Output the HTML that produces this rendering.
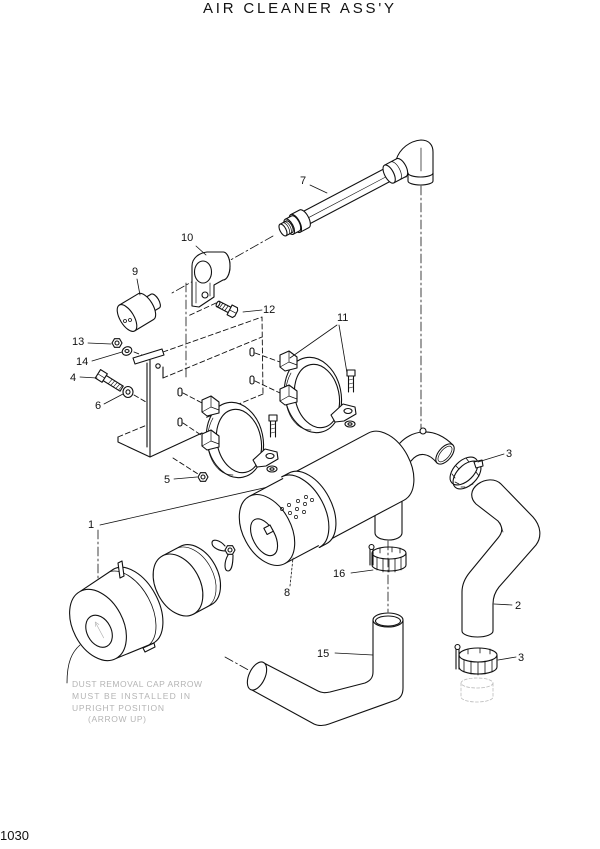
<!DOCTYPE html>
<html><head><meta charset="utf-8"><style>
html,body{margin:0;padding:0;background:#fff;}
svg{display:block;}
.t{font-family:"Liberation Sans",sans-serif;font-size:11px;fill:#111;stroke:none;}
.n{font-family:"Liberation Sans",sans-serif;font-size:8.5px;fill:#b4b4b4;stroke:none;}
</style></head><body>
<svg width="600" height="849" viewBox="0 0 600 849" xmlns="http://www.w3.org/2000/svg">
<rect width="600" height="849" fill="#fff"/>
<text x="203" y="13" textLength="191" lengthAdjust="spacing" style="font-family:'Liberation Sans',sans-serif;font-size:15px;fill:#111;">AIR CLEANER ASS'Y</text>
<text x="0" y="840" style="font-family:'Liberation Sans',sans-serif;font-size:13px;fill:#111;">1030</text>

<g fill="none" stroke="#111" stroke-width="1.1" stroke-linecap="round" stroke-linejoin="round">

<!-- centerlines / dash-dot -->
<g stroke-width="0.8" stroke-dasharray="9,3,2,3">
<path d="M421,186 L421,428"/>
<path d="M273,236 L172,293"/>
<path d="M186,283 L186,380"/>
<path d="M98,530 L98,588"/>
<path d="M388,541 L388,612"/>
<path d="M388,625 L388,698"/>
<path d="M225,657 L290,693"/>
<path d="M305,700 L365,690"/>
</g>

<!-- Pipe 7 elbow -->
<path d="M396,160 C400,148 410,141 421,140 C429,140 433,145 433,152 L433,174 L408,174 L406,177 Z" fill="#fff"/>
<path d="M408,173 L408,181 A12.5,4 0 0 0 433,181 L433,173" fill="#fff"/>
<path d="M408,173 A12.5,4 0 0 0 433,173"/>
<path d="M421,148 L421,171" stroke-width="0.7"/>
<g transform="translate(283,230) rotate(-27.8)">
<path d="M24,-7 L122,-7 M24,7 L122,7"/>
<path d="M28,1 L118,1" stroke-width="0.6"/>
<path d="M120,-10 L134,-10 A4.5,10 0 0 1 134,10 L120,10 Z" fill="#fff"/>
<ellipse cx="120" cy="0" rx="4.5" ry="10" fill="#fff"/>
<path d="M127,-10 A4.5,10 0 0 1 127,10" stroke-width="0.7"/>
<path d="M14,-10 L24,-10 A4.5,10 0 0 1 24,10 L14,10 Z" fill="#fff"/>
<ellipse cx="14" cy="0" rx="4.5" ry="10" fill="#fff"/>
<path d="M7,-8.5 L14,-8.5 A4,8.5 0 0 1 14,8.5 L7,8.5 Z" fill="#fff"/>
<ellipse cx="7" cy="0" rx="4" ry="8.5" fill="#fff"/>
<path d="M0,-6.5 L7,-6.5 A3,6.5 0 0 1 7,6.5 L0,6.5 Z" fill="#fff"/>
<ellipse cx="0" cy="0" rx="3" ry="6.5" fill="#fff"/>
<path d="M3,-6.5 A3,6.5 0 0 1 3,6.5 M5,-6.5 A3,6.5 0 0 1 5,6.5" stroke-width="0.7"/>
</g>

<!-- Part 10 clamp -->
<ellipse cx="223" cy="266" rx="7" ry="14" fill="#fff"/>
<path d="M192,306 L192,266 C192,258 199,253 207,252 L223,252 A7,14 0 0 1 223,280 L214,285 L214,297 L199,307 Z" fill="#fff"/>
<ellipse cx="203" cy="272" rx="8.5" ry="11"/>
<path d="M196,303 L196,282 M210,283 L210,296" stroke-width="0.7"/>
<circle cx="205" cy="295" r="3"/>

<!-- Part 9 -->
<g transform="translate(127,318) rotate(-31)">
<path d="M20,-8 L33,-8 A3.5,8 0 0 1 33,8 L20,8 Z" fill="#fff"/>
<path d="M0,-15 L22,-15 A7,15 0 0 1 22,15 L0,15 Z" fill="#fff"/>
<ellipse cx="0" cy="0" rx="7" ry="15" fill="#fff"/>
</g>
<circle cx="125" cy="321" r="1.5" stroke-width="0.8"/>
<circle cx="130" cy="320" r="1.5" stroke-width="0.8"/>

<!-- Part 12 bolt -->
<g transform="translate(218,304) rotate(27)">
<path d="M0,-3 L13,-3 M0,3 L13,3"/>
<ellipse cx="0" cy="0" rx="1.5" ry="3"/>
<path d="M4,-3 L3,3 M7,-3 L6,3 M10,-3 L9,3" stroke-width="0.7"/>
<path d="M13,-5.5 L19,-5.5 L20.5,-3 L20.5,3 L19,5.5 L13,5.5 Z" fill="#fff"/>
<path d="M13,0 L20.5,0" stroke-width="0.7"/>
</g>

<!-- Plate (mounting bracket) -->
<g stroke-width="0.9" stroke-dasharray="5,3">
<path d="M163,352 L262,317 L263,394"/>
<path d="M163,378 L262,337"/>
<path d="M263,394 L205,418"/>
<path d="M118,437 L147,425"/>
<path d="M216,303 L188,316"/>
<path d="M134,352 L147,357"/>
<path d="M134,395 L146,402"/>
<path d="M173,458 L198,474"/>
<path d="M255,353 L280,362"/>
<path d="M255,381 L280,393"/>
<path d="M183,393 L204,404"/>
<path d="M183,423 L204,437"/>
</g>
<path d="M133,358 L162,349 L164,355 L135,364 Z" fill="#fff"/>
<path d="M147,363 L147,447 M150,360 L150,456"/>
<path d="M118,437 L118,442 L150,457 L202,433"/>
<path d="M163,367 L163,378"/>
<circle cx="158" cy="366" r="2.2"/>
<rect x="250" y="348" width="4" height="8" rx="2"/>
<rect x="250" y="376" width="4" height="8" rx="2"/>
<rect x="178" y="388" width="4" height="8" rx="2"/>
<rect x="178" y="418" width="4" height="8" rx="2"/>

<!-- Band clamps 11 -->
<defs>
<g id="clmp">
<ellipse cx="0" cy="0" rx="28" ry="38" transform="rotate(-12)" fill="#fff"/>
<ellipse cx="4" cy="1" rx="22" ry="32" transform="rotate(-12 4 1)"/>
<path d="M-22,-22 A25,35 0 0 0 -2,35" stroke-width="0.7"/>
<path d="M-33,-40 L-24,-44 L-16,-38 L-16,-27 L-28,-24 L-33,-28 Z" fill="#fff"/>
<path d="M-24,-44 L-24,-33 L-33,-28 M-24,-33 L-16,-30" stroke-width="0.7"/>
<path d="M-33,-6 L-24,-10 L-16,-4 L-16,7 L-28,10 L-33,6 Z" fill="#fff"/>
<path d="M-24,-10 L-24,1 L-33,6 M-24,1 L-16,4" stroke-width="0.7"/>
<path d="M18,20 L30,9 L42,12 L43,19 L31,26 L22,27 Z" fill="#fff"/>
<ellipse cx="35" cy="16" rx="4" ry="2.5"/>
<path d="M35.5,-19 L35.5,-3 M40.5,-19 L40.5,-3"/>
<path d="M34,-25 L42,-25 L42,-19 L34,-19 Z" fill="#fff"/>
<path d="M36,-15 L40,-16 M36,-11 L40,-12 M36,-7 L40,-8" stroke-width="0.6"/>
<ellipse cx="37" cy="29" rx="5" ry="3" fill="#fff"/>
<ellipse cx="37" cy="29" rx="2" ry="1.2"/>
</g>
</defs>
<use href="#clmp" transform="translate(313,395)"/>
<use href="#clmp" transform="translate(235,440)"/>

<!-- small parts 13,14,4,6,5 -->
<path d="M112,343 L114.5,338.7 L119.5,338.7 L122,343 L119.5,347.3 L114.5,347.3 Z" fill="#fff"/>
<circle cx="117" cy="343" r="2"/>
<ellipse cx="127" cy="351" rx="5" ry="4" transform="rotate(-30 127 351)" fill="#fff"/>
<ellipse cx="127" cy="351" rx="2" ry="1.5"/>
<g transform="translate(103,377) rotate(32)">
<path d="M2,-3 L22,-3 M2,3 L22,3 M22,-3 L22,3"/>
<path d="M9,-3 L8,3 M12,-3 L11,3 M15,-3 L14,3 M18,-3 L17,3 M21,-3 L20,3" stroke-width="0.6"/>
<path d="M-6,-5 L2,-5 L2,5 L-6,5 Z" fill="#fff"/>
<path d="M-6,0 L2,0" stroke-width="0.6"/>
</g>
<ellipse cx="128" cy="392" rx="5" ry="5.5" fill="#fff"/>
<ellipse cx="128" cy="392" rx="2" ry="2.2"/>
<path d="M198,477 L200.5,472.7 L205.5,472.7 L208,477 L205.5,481.3 L200.5,481.3 Z" fill="#fff"/>
<circle cx="203" cy="477" r="2"/>

<!-- leader 1 (behind canister) -->
<path d="M100,525 L277,485" stroke-width="0.8"/>

<!-- Main canister 8 -->
<path d="M400,443 C410,432 432,424 453,445" />
<path d="M411,461 C418,452 428,452 437,463"/>
<ellipse cx="445" cy="454" rx="12" ry="6.5" transform="rotate(-50 445 454)" fill="#fff"/>
<ellipse cx="445" cy="454" rx="9.5" ry="4.5" transform="rotate(-50 445 454)" stroke-width="0.7"/>
<circle cx="423" cy="431" r="3" fill="#fff"/>
<path d="M375,505 L375,533 A13.5,7 0 0 0 402,533 L402,500" fill="#fff"/>
<g transform="translate(267,530) rotate(-28)">
<path d="M46,-38 L135,-38 A24,38 0 0 1 135,38 L46,38 Z" fill="#fff"/>
<path d="M38,-40 L46,-40 A24,40 0 0 1 46,40 L38,40 Z" fill="#fff" stroke="none"/>
<path d="M38,-40 L46,-40 A24,40 0 0 1 46,40 L38,40"/>
<path d="M0,-38 L38,-38 L38,38 L0,38 Z" fill="#fff" stroke="none"/>
<path d="M0,-38 L38,-38 M0,38 L38,38"/>
<path d="M38,-40 A24,40 0 0 1 38,40"/>
<ellipse cx="0" cy="0" rx="24" ry="38" fill="#fff"/>
<ellipse cx="-6" cy="5" rx="11" ry="20"/>
<rect x="-2" y="-3" width="7" height="7" fill="#fff"/>
</g>
<g stroke-width="0.7">
<circle cx="289" cy="505" r="1.6"/><circle cx="297" cy="509" r="1.6"/>
<circle cx="296" cy="517" r="1.6"/><circle cx="290" cy="513" r="1.6"/>
<circle cx="298" cy="501" r="1.6"/><circle cx="305" cy="504" r="1.6"/>
<circle cx="304" cy="512" r="1.6"/><circle cx="312" cy="500" r="1.6"/>
<circle cx="306" cy="497" r="1.6"/><circle cx="282" cy="509" r="1.6"/>
</g>

<!-- Clamp 3 top -->
<ellipse cx="467" cy="475" rx="17" ry="10" transform="rotate(-45 467 475)" fill="#fff"/>
<ellipse cx="464" cy="471" rx="17" ry="10" transform="rotate(-45 464 471)"/>
<g stroke-width="0.8">
<path d="M452,474 L455,478 M455,482 L459,484 M461,487 L465,487 M470,485 L473,484 M456,466 L459,469 M466,458 L469,462 M476,472 L479,476"/>
</g>
<path d="M474,462 L482,460 L483,466 L476,468 Z" fill="#fff"/>

<!-- Hose 2 -->
<path d="M476,504 C470,498 470,490 478,484 C485,479 495,478 501,484 L533,517 C541,526 542,537 536,545 L499,587 C495,592 493,598 493,604 L493,631 A15.5,6 0 0 1 462,631 L462,592 C462,584 465,578 470,572 L498,538 C503,532 503,527 498,521 Z" fill="#fff"/>
<path d="M500,523 L503,532" stroke-width="0.7"/>

<!-- Clamp 16 -->
<ellipse cx="389" cy="553" rx="17" ry="6"/>
<path d="M372,553 L372,565 A17,6 0 0 0 406,565 L406,553"/>
<g stroke-width="0.8"><path d="M377,557 L377,570 M383,559 L383,572 M389,559 L389,572 M395,559 L395,572 M401,557 L401,570 M380,548 L380,553 M392,547 L392,552 M400,548 L400,553"/></g>
<path d="M370,548 L370,565 M373,548 L373,565"/>
<circle cx="371.5" cy="547" r="2.5" fill="#fff"/>

<!-- Clamp 3 bottom -->
<ellipse cx="478" cy="655" rx="19" ry="7"/>
<path d="M459,655 L459,667 A19,7 0 0 0 497,667 L497,655"/>
<g stroke-width="0.8"><path d="M464,660 L464,672 M471,661 L471,674 M478,662 L478,675 M485,661 L485,674 M492,660 L492,672 M468,649 L468,654 M480,648 L480,653 M490,649 L490,654"/></g>
<path d="M456,648 L456,669 M459,648 L459,669"/>
<circle cx="457.5" cy="647" r="2.5" fill="#fff"/>
<!-- faint ring -->
<g stroke="#bbb" stroke-width="0.8" stroke-dasharray="3,2">
<ellipse cx="477" cy="683" rx="16" ry="5"/>
<path d="M461,683 L461,697 A16,5 0 0 0 493,697 L493,683"/>
</g>

<!-- Hose 15 -->
<path d="M373,620 L373,672 C373,678 370,681 365,683 L330,692 C325,693 322,693 318,691 L262,662 L252,690 L314,724 C318,726 324,726 329,724 L396,700 C401,698 403,694 403,688 L403,620" fill="#fff"/>
<ellipse cx="257" cy="676" rx="8" ry="15" transform="rotate(25 257 676)" fill="#fff"/>
<ellipse cx="388" cy="620" rx="15" ry="7" fill="#fff"/>
<ellipse cx="388" cy="621" rx="12.5" ry="5"/>

<!-- Part 1: dust cap -->
<g transform="translate(98,625) rotate(-28)">
<path d="M0,-38 L40,-42 A25,42 0 0 1 40,42 L0,38 Z" fill="#fff"/>
<path d="M36,-41.5 A25,42 0 0 1 36,41.5" stroke-width="0.8"/>
<ellipse cx="0" cy="0" rx="25" ry="38" fill="#fff"/>
<ellipse cx="-2" cy="6" rx="12" ry="17"/>
<path d="M-1,-2 L-1,14 M-3,0 L-1,-4 L1,0" stroke="#aaa" stroke-width="0.6"/>
</g>
<path d="M118,563 L122,561 L124,576 L120,578 Z" fill="#fff"/>
<path d="M143,648 L154,643 L155,647 L145,652 Z" fill="#fff"/>
<!-- element -->
<g transform="translate(178,585) rotate(-28)">
<path d="M0,-33 L20,-33 A22,33 0 0 1 20,33 L0,33 Z" fill="#fff"/>
<path d="M15,-33 A22,33 0 0 1 15,33" stroke-width="0.7"/>
<ellipse cx="0" cy="0" rx="22" ry="33" fill="#fff"/>
</g>
<!-- wing nut -->
<path d="M225,546 C220,540 212,538 212,543 C212,548 220,551 225,551" fill="#fff"/>
<path d="M228,555 C224,562 224,571 228,571 C232,571 233,562 233,555" fill="#fff"/>
<path d="M225,550 L227.5,545.7 L232.5,545.7 L235,550 L232.5,554.3 L227.5,554.3 Z" fill="#fff"/>
<circle cx="230" cy="550" r="2"/>

<!-- leaders -->
<g stroke-width="0.8">
<path d="M310,185 L327,193"/>
<path d="M196,246 L206,255"/>
<path d="M137,279 L140,295"/>
<path d="M262,310 L243,312"/>
<path d="M337,325 L290,358 M339,325 L347,373"/>
<path d="M88,343 L111,344"/>
<path d="M92,361 L122,352"/>
<path d="M80,377 L97,378"/>
<path d="M104,404 L123,394"/>
<path d="M174,479 L197,477"/>
<path d="M504,454 L478,462"/>
<path d="M512,605 L494,604"/>
<path d="M516,657 L498,660"/>
<path d="M351,573 L373,570"/>
<path d="M335,653 L373,655"/>
<path d="M80,645 C72,652 67,662 67,683"/>
<path d="M290,586 L293,558" stroke-dasharray="2,2"/>
</g>
</g>

<text class="t" x="300" y="184">7</text>
<text class="t" x="181" y="241">10</text>
<text class="t" x="132" y="275">9</text>
<text class="t" x="263" y="313">12</text>
<text class="t" x="337" y="321">11</text>
<text class="t" x="72" y="345">13</text>
<text class="t" x="76" y="365">14</text>
<text class="t" x="70" y="381">4</text>
<text class="t" x="95" y="409">6</text>
<text class="t" x="164" y="483">5</text>
<text class="t" x="506" y="457">3</text>
<text class="t" x="515" y="609">2</text>
<text class="t" x="518" y="661">3</text>
<text class="t" x="333" y="577">16</text>
<text class="t" x="317" y="657">15</text>
<text class="t" x="284" y="596">8</text>
<text class="t" x="88" y="528">1</text>

<text class="n" x="72" y="687" textLength="130" lengthAdjust="spacing">DUST REMOVAL CAP ARROW</text>
<text class="n" x="72" y="699" textLength="118" lengthAdjust="spacing">MUST BE INSTALLED IN</text>
<text class="n" x="72" y="711" textLength="92" lengthAdjust="spacing">UPRIGHT POSITION</text>
<text class="n" x="88" y="722" textLength="58" lengthAdjust="spacing">(ARROW UP)</text>
</svg>
</body></html>
